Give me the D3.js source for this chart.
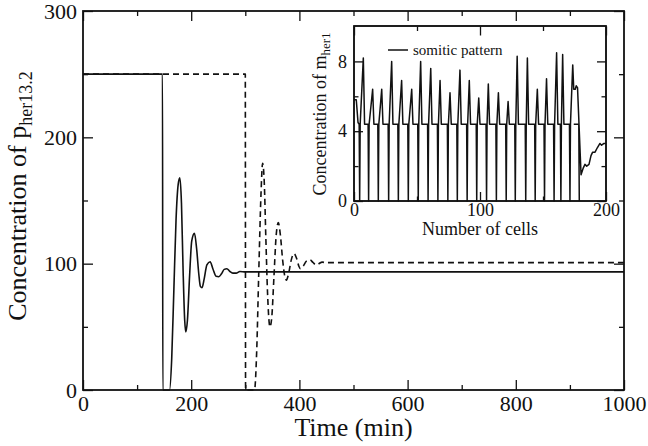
<!DOCTYPE html>
<html>
<head>
<meta charset="utf-8">
<script src="https://cdn.jsdelivr.net/npm/d3@7"></script>
<style>
body{margin:0;background:#fff;}
svg{display:block;font-family:"Liberation Serif","Times New Roman",serif;}
.frame{fill:none;stroke:#111;stroke-width:1.8px;}
.inset-bg{fill:#fff;stroke:#111;stroke-width:1.5px;}
.axis line{stroke:#111;stroke-width:1.3px;}
.axis text{fill:#111;}
.trace{fill:none;stroke:#111;stroke-width:1.6px;stroke-linejoin:round;}
.trace.dashed{stroke-dasharray:6,4;}
.label{fill:#111;}
</style>
</head>
<body>
<div id="chart"></div>
<script>
// main panel: p_her13.2 against time (min)
var solidCurve = [[0,250],[147,250],[147.5,0],[160,0],[164,25],[168,80],[172,135],[176,163],[179,168],
    [182,148],[185,95],[188,55],[190,46],[193,55],[197,90],[201,118],[206,124],[210,112],[214,92],
    [217,82],[220,81],[224,88],[229,99],[235,101.5],[240,96],[246,90],[251,89.7],[256,92],[261,95.5],
    [266,96],[271,94],[277,92.5],[283,92.5],[290,93.8],[300,93.5],[1000,93.5]];
var dashedCurve = [[0,250],[300,250],[300.5,0],[317,0],[321,30],[325,95],[329,155],[332,179.5],[335,165],
    [338,120],[341,78],[345.6,50],[349,58],[353,90],[357,122],[361,132.5],[365,122],[369,103],[373,90],
    [376,87],[380,92],[385,103],[390,108],[395,104],[399,98],[402,96],[407,98],[413,102],[419.6,103],
    [425,101],[430.7,99],[436,100],[442,101.2],[450,100.8],[1000,100.8]];
var timeTicks = [0,200,400,600,800,1000];
var timeMinorTicks = [100,300,500,700,900];
var concTicks = [0,100,200,300];
var concMinorTicks = [50,150,250];

// inset: somitic pattern of m_her1 along the cells (null breaks the line)
var somiticPattern = [[0,5.8],[1.8,5.8],[3.2,4.5],
    [4.1,4.4],[4.5,0],[4.9,4.4],[7.4,8.2],[8.4,4.4],
    [11.2,4.4],[11.6,0],[12.0,4.4],[14.8,6.4],[15.8,4.4],
    [18.9,4.4],[19.3,0],[19.7,4.4],[22.0,6.4],[23.0,4.4],
    [27.1,4.4],[27.5,0],[27.9,4.4],[29.9,8.0],[30.9,4.4],
    [34.8,4.4],[35.2,0],[35.6,4.4],[37.8,6.9],[38.8,4.4],
    [42.7,4.4],[43.1,0],[43.5,4.4],[45.8,6.4],[46.8,4.4],
    [50.6,4.4],[51.0,0],[51.4,4.4],[52.9,8.0],[53.9,4.4],
    [58.4,4.4],[58.8,0],[59.2,4.4],[60.9,7.6],[61.9,4.4],
    [66.2,4.4],[66.6,0],[67.0,4.4],[68.3,6.9],[69.3,4.4],
    [74.1,4.4],[74.5,0],[74.9,4.4],[76.2,6.2],[77.2,4.4],
    [81.6,4.4],[82.0,0],[82.4,4.4],[84.1,7.5],[85.1,4.4],
    [89.4,4.4],[89.8,0],[90.2,4.4],[91.5,6.9],[92.5,4.4],
    [97.0,4.4],[97.4,0],[97.8,4.4],[99.0,5.9],[100.0,4.4],
    [104.8,4.4],[105.2,0],[105.6,4.4],[106.6,6.7],[107.6,4.4],
    [112.6,4.4],[113.0,0],[113.4,4.4],[114.6,6.2],[115.6,4.4],
    [120.4,4.4],[120.8,0],[121.2,4.4],[122.3,5.7],[123.3,4.4],
    [127.6,4.4],[128.0,0],[128.4,4.4],[129.5,8.3],[130.5,4.4],
    [135.9,4.4],[136.3,0],[136.7,4.4],[137.6,8.2],[138.6,4.4],
    [143.4,4.4],[143.8,0],[144.2,4.4],[145.5,6.4],[146.5,4.4],
    [150.8,4.4],[151.2,0],[151.6,4.4],[152.8,7.0],[153.8,4.4],
    [158.4,4.4],[158.8,0],[159.2,4.4],[160.8,8.5],[161.8,4.4],
    [163.8,4.4],[164.2,0],[164.6,4.4],[165.6,8.4],[166.6,4.4],
    [171.0,4.4],[171.4,0],[171.8,4.4],[173.6,7.8],[174.4,6.4],[175.6,6.4],[176.4,6.6],[177.4,6.5],
    [180.2,1.5],[182.0,1.9],[183.3,2.1],[184.7,2.0],[186.5,2.1],[188.1,2.6],[189.4,2.8],[191.3,2.8],
    [193.1,3.05],[195.2,3.3],[196.5,3.2],[198.4,3.3],[200,3.3],
    null,
    [174.4,4.4],[178.4,4.4],[178.8,0]];
var cellTicks = [0,100,200];
var cellMinorTicks = [50,150];
var mher1Ticks = [0,4,8];
var mher1MinorTicks = [2,6];

var chart = {};

chart.ticks = function(_config){
    var config = {
        panel: null,
        scale: null,
        orient: 'bottom',
        offset: 0,
        values: [],
        size: 10,
        labels: false,
        fontSize: 22,
        padding: 5
    };
    Object.assign(config, _config);

    var maker = {bottom: d3.axisBottom, top: d3.axisTop, left: d3.axisLeft, right: d3.axisRight}[config.orient];
    var axis = maker(config.scale)
        .tickValues(config.values)
        .tickSize(-config.size)
        .tickPadding(config.padding)
        .tickFormat(config.labels ? d3.format('d') : '');
    var horizontal = config.orient === 'bottom' || config.orient === 'top';
    var g = config.panel.append('g')
        .attr('class', 'axis')
        .attr('transform', horizontal ? 'translate(0,' + config.offset + ')' : 'translate(' + config.offset + ',0)')
        .call(axis)
        .attr('font-family', null)
        .attr('font-size', null);
    g.select('.domain').remove();
    g.selectAll('text').style('font-size', config.fontSize + 'px');
    return g;
};

chart.frame = function(_config){
    var config = {
        panel: null,
        scaleX: null,
        scaleY: null,
        xTicks: [], xMinor: [], yTicks: [], yMinor: [],
        major: 10, minor: 5,
        fontSize: 22, padX: 5, padY: 6
    };
    Object.assign(config, _config);
    var x = config.scaleX, y = config.scaleY;
    var r = x.range(), b = y.range();
    var sides = [
        ['bottom', x, b[0], config.xTicks, config.xMinor, true, config.padX],
        ['top', x, b[1], config.xTicks, config.xMinor, false, 0],
        ['left', y, r[0], config.yTicks, config.yMinor, true, config.padY],
        ['right', y, r[1], config.yTicks, config.yMinor, false, 0]
    ];
    sides.forEach(function(s){
        chart.ticks({panel: config.panel, scale: s[1], orient: s[0], offset: s[2], values: s[3],
            size: config.major, labels: s[5], fontSize: config.fontSize, padding: s[6]});
        chart.ticks({panel: config.panel, scale: s[1], orient: s[0], offset: s[2], values: s[4],
            size: config.minor});
    });
};

var width = 648, height = 446;
var svg = d3.select('#chart').append('svg')
    .attr('width', width)
    .attr('height', height);

// main panel
var scaleX = d3.scaleLinear().domain([0, 1000]).range([83, 624]);
var scaleY = d3.scaleLinear().domain([0, 300]).range([390, 11]);

var line = d3.line()
    .defined(function(d){ return d !== null; })
    .x(function(d){ return scaleX(d[0]); })
    .y(function(d){ return scaleY(d[1]); })
    .curve(d3.curveMonotoneX);

svg.append('path').attr('class', 'trace dashed').attr('d', line(dashedCurve));
svg.append('path').attr('class', 'trace').attr('d', line(solidCurve));

chart.frame({panel: svg, scaleX: scaleX, scaleY: scaleY,
    xTicks: timeTicks, xMinor: timeMinorTicks, yTicks: concTicks, yMinor: concMinorTicks,
    major: 10, minor: 5, fontSize: 22, padX: 5, padY: 6});

svg.append('rect').attr('class', 'frame')
    .attr('x', 83).attr('y', 11).attr('width', 624 - 83).attr('height', 390 - 11);

svg.append('text').attr('class', 'label')
    .attr('x', (83 + 624) / 2).attr('y', 436)
    .attr('text-anchor', 'middle')
    .style('font-size', '26px')
    .text('Time (min)');

var yTitle = svg.append('text').attr('class', 'label')
    .attr('transform', 'translate(26,196) rotate(-90)')
    .attr('text-anchor', 'middle')
    .style('font-size', '26px');
yTitle.append('tspan').text('Concentration of p');
yTitle.append('tspan').attr('dy', 6).style('font-size', '18px').text('her13.2');

// inset
var insetX = d3.scaleLinear().domain([0, 200]).range([354, 606]);
var insetY = d3.scaleLinear().domain([0, 10]).range([201, 26.5]);

svg.append('rect').attr('class', 'inset-bg')
    .attr('x', 354).attr('y', 26).attr('width', 606 - 354).attr('height', 201 - 26);

var insetLine = d3.line()
    .defined(function(d){ return d !== null; })
    .x(function(d){ return insetX(d[0]); })
    .y(function(d){ return insetY(d[1]); });

svg.append('path').attr('class', 'trace').style('stroke-width', '1.5px')
    .attr('d', insetLine(somiticPattern));

chart.frame({panel: svg, scaleX: insetX, scaleY: insetY,
    xTicks: cellTicks, xMinor: cellMinorTicks, yTicks: mher1Ticks, yMinor: mher1MinorTicks,
    major: 9, minor: 4.5, fontSize: 18, padX: 2, padY: 7});

svg.append('rect').attr('class', 'frame').style('stroke-width', '1.5px')
    .attr('x', 354).attr('y', 26).attr('width', 606 - 354).attr('height', 201 - 26);

svg.append('text').attr('class', 'label')
    .attr('x', (354 + 606) / 2).attr('y', 235)
    .attr('text-anchor', 'middle')
    .style('font-size', '18px')
    .text('Number of cells');

var insetTitle = svg.append('text').attr('class', 'label')
    .attr('transform', 'translate(326,114) rotate(-90)')
    .attr('text-anchor', 'middle')
    .style('font-size', '18px');
insetTitle.append('tspan').text('Concentration of m');
insetTitle.append('tspan').attr('dy', 4).style('font-size', '13px').text('her1');

// legend
svg.append('line')
    .attr('x1', 388).attr('x2', 408).attr('y1', 50).attr('y2', 50)
    .style('stroke', '#111').style('stroke-width', '1.5px');
svg.append('text').attr('class', 'label')
    .attr('x', 413).attr('y', 54.5)
    .style('font-size', '15px')
    .text('somitic pattern');
</script>
</body>
</html>
